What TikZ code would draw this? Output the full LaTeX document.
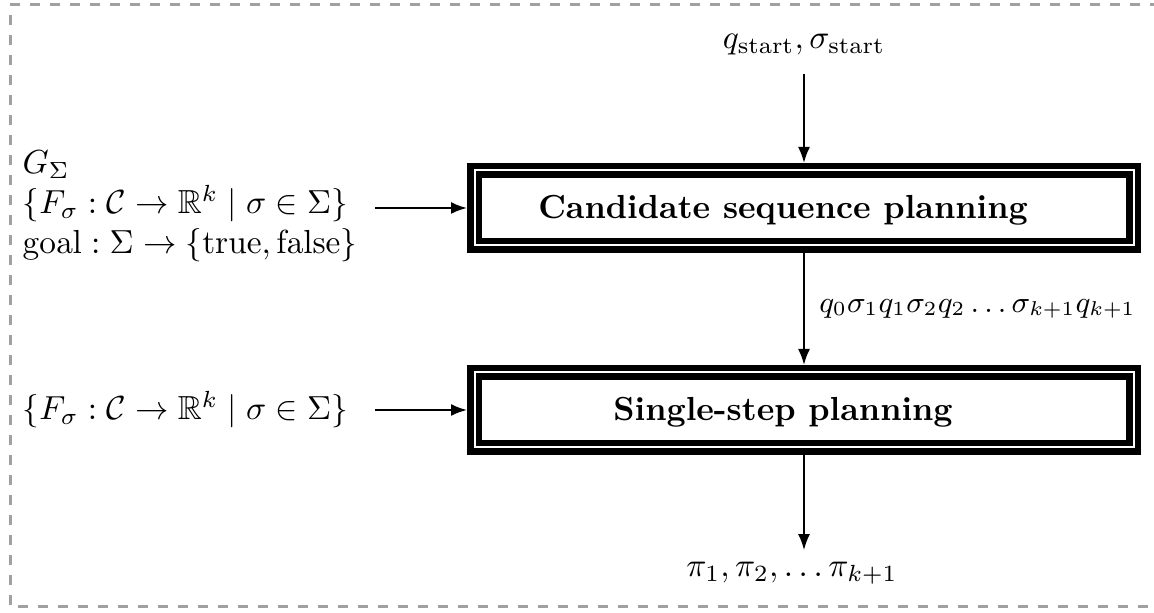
\documentclass[tikz,border=0pt]{standalone}
\usepackage{amsmath,amssymb}
\usetikzlibrary{arrows.meta}
\definecolor{framegray}{RGB}{160,160,160}
\begin{document}
\begin{tikzpicture}[x=0.3pt,y=-0.3pt,
  stagebox/.style={draw=black, double=white, line width=1.95pt,
    double distance=0.6pt, minimum width=197.7pt, minimum height=22.5pt,
    inner sep=0pt, outer sep=2.25pt},
  stagelabel/.style={font=\bfseries, inner sep=0pt},
  flow/.style={-{Latex[length=4.8pt,width=3.6pt]}, line width=0.6pt},
  frame/.style={draw=framegray, dashed, line width=0.9pt}]
\useasboundingbox (0,0) rectangle (1154,613);
\draw[frame] (1160,5) -- (10,5) -- (10,607) -- (1160,607);

% planning stages
\node[stagebox] (cand) at (804,208) {};
\node[stagelabel] (candtext) at (783,210) {Candidate sequence planning};
\node[stagebox] (single) at (804,410) {};
\node[stagelabel] (singletext) at (783,412) {Single-step planning};

% inputs and outputs
\node (start) at (804,45) {$q_{\text{start}}, \sigma_{\text{start}}$};
\node[align=left, anchor=west, inner sep=0pt] (specs) at (22,206)
  {$G_\Sigma$\\ $\{F_\sigma : \mathcal{C} \rightarrow \mathbb{R}^k \mid \sigma \in \Sigma\}$\\
   $\mathrm{goal} : \Sigma \rightarrow \{\mathrm{true}, \mathrm{false}\}$};
\node[anchor=west, inner sep=0pt] (constr) at (22,410)
  {$\{F_\sigma : \mathcal{C} \rightarrow \mathbb{R}^k \mid \sigma \in \Sigma\}$};
\node (result) at (792,573) {$\pi_1, \pi_2, \ldots \pi_{k+1}$};
\coordinate (feed) at (375,0);

% connectors
\draw[flow, shorten <=2pt] (start) -- (cand);
\draw[flow] (cand.west -| feed) -- (cand.west);
\draw[flow] (cand) -- node[right, xshift=1pt, font=\small] (seq)
  {$q_0\sigma_1q_1\sigma_2q_2\ldots\sigma_{k+1}q_{k+1}$} (single);
\draw[flow] (single.west -| feed) -- (single.west);
\draw[flow] (single.south) -- (single.south |- result.north);
\end{tikzpicture}
\end{document}
